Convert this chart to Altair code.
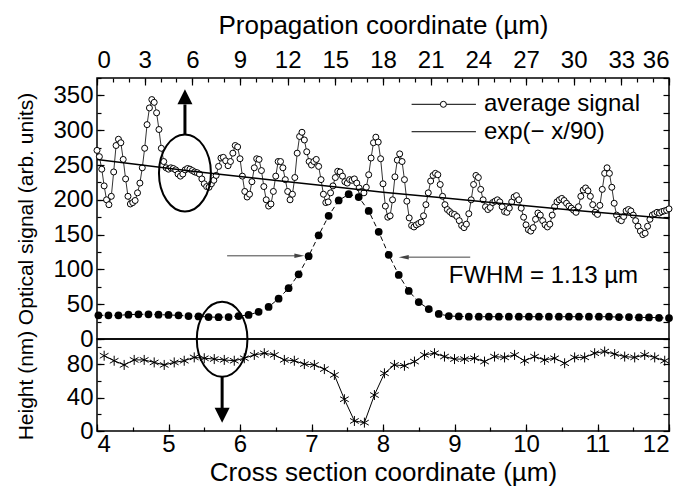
import altair as alt
import pandas as pd

# ---------------- data ----------------
# average optical signal versus propagation coordinate (µm), 0.15 µm sampling
avg_signal = [
    271, 262, 244, 220, 200, 193, 205, 240, 278, 287, 282, 258, 230, 205, 194, 196,
    199, 210, 224, 246, 274, 308, 332, 344, 340, 325, 301, 274, 255, 246, 244, 246,
    245, 243, 237, 234, 237, 243, 245, 244, 242, 240, 239, 237, 230, 223, 219, 218,
    223, 228, 235, 248, 260, 261, 256, 249, 255, 267, 278, 276, 259, 234, 212, 204,
    208, 226, 246, 259, 258, 242, 219, 200, 191, 194, 212, 234, 255, 255, 246, 229,
    212, 200, 208, 232, 267, 291, 297, 286, 269, 255, 250, 255, 258, 248, 229, 208,
    196, 197, 210, 220, 232, 241, 240, 234, 226, 224, 229, 228, 230, 224, 217, 212,
    210, 218, 236, 260, 282, 290, 283, 259, 223, 191, 175, 177, 200, 233, 257, 266,
    255, 229, 198, 174, 163, 161, 164, 166, 168, 177, 193, 210, 227, 235, 238, 236,
    222, 205, 193, 186, 183, 180, 179, 176, 170, 163, 160, 165, 180, 200, 222, 235,
    232, 215, 200, 190, 186, 189, 196, 198, 200, 197, 190, 183, 182, 188, 197, 204,
    206, 200, 188, 175, 164, 157, 155, 160, 172, 181, 178, 170, 164, 161, 165, 178,
    190, 197, 200, 202, 199, 195, 191, 188, 185, 182, 190, 205, 214, 217, 213, 205,
    193, 182, 179, 192, 215, 238, 246, 238, 218, 195, 178, 172, 170, 176, 184, 186,
    184, 178, 170, 162, 155, 150, 152, 162, 172, 178, 180, 182, 181, 183, 184, 185,
    187,
]
PROP_STEP = 0.15
prop_x = [round(i * PROP_STEP, 2) for i in range(len(avg_signal))]

# exp(-x/90) fit, read at a few propagation positions
fit_x = [0, 6, 12, 18, 24, 30, 36]
fit_y = [258, 241, 226, 211, 198, 185, 173]

# optical signal across the waveguide (cross section coordinate, µm)
CS_START, CS_STEP = 4.02, 0.14
cs_signal = [
    34, 34, 34, 35, 35.5, 35.5, 35, 34.5, 34, 33, 32.5, 31.6, 31.3, 31.6, 33, 34.5,
    39, 46, 58, 73, 93, 119, 149, 177, 199, 208, 204, 184, 154, 121, 92, 69, 53, 43,
    36, 33, 32.5, 32, 32, 32, 32, 32, 32, 32, 32, 32, 32, 32, 32, 32, 32, 32, 31.5,
    31.5, 31, 31, 30.5, 30,
]
cs_x = [round(CS_START + i * CS_STEP, 2) for i in range(len(cs_signal))]

# surface height (nm) across the waveguide
H_START, H_STEP = 4.10, 0.14
height_nm = [
    90, 84, 79, 85, 85, 82, 79, 82, 84, 88, 87, 86, 85, 84, 87, 91, 93, 91, 85, 84,
    80, 79, 74, 67, 38, 12, 10, 43, 69, 79, 78, 83, 91, 93, 89, 86, 86, 87, 83, 89,
    88, 91, 84, 89, 85, 87, 81, 88, 88, 93, 95, 92, 89, 88, 91, 88, 84,
]
h_x = [round(H_START + i * H_STEP, 2) for i in range(len(height_nm))]

# tick values
prop_ticks = list(range(0, 37, 3))
prop_minor = list(range(0, 37))
sig_ticks = list(range(0, 351, 50))
sig_minor = list(range(0, 376, 25))
cs_ticks = list(range(4, 13))
cs_minor = [4 + 0.5 * i for i in range(17)]
h_ticks = [0, 40, 80]
h_minor = [0, 20, 40, 60, 80, 100]

# annotation anchors (data units)
ell_top = {"c": [5.23], "s": [238.6]}
arrow_up_shaft = {"c": [5.23], "s": [293], "s2": [337]}
arrow_up_head = {"c": [5.23], "s": [348]}
ell_bot = {"c": [5.75], "h": [109.7]}
arrow_dn_shaft = {"c": [5.75], "h": [64.6], "h2": [27.5]}
arrow_dn_head = {"c": [5.75], "h": [18.9]}
fwhm_shafts = {"c": [5.82, 9.22], "c2": [6.83, 8.29], "s": [119.5, 117.6]}
fwhm_right_head = {"c": [6.83], "s": [119.5]}
fwhm_left_head = {"c": [8.29], "s": [117.6]}
fwhm_label = {"c": [8.92], "s": [90.5], "t": ["FWHM = 1.13 µm"]}
legend_lines = {"p": [19.8, 19.8], "p2": [23.85, 23.85], "s": [337.2, 297.8]}
legend_marker = {"p": [21.8], "s": [337.2]}
legend_text = {"p": [24.35, 24.35], "s": [337.2, 297.8], "t": ["average signal", "exp(− x/90)"]}

# ---------------- styling ----------------
FONT = "Liberation Sans"
W, H1, H2 = 572, 261, 92
ELLIPSE = ("M0.675,0C0.675,0.552,0.373,1,0,1C-0.373,1,-0.675,0.552,-0.675,0"
           "C-0.675,-0.552,-0.373,-1,0,-1C0.373,-1,0.675,-0.552,0.675,0Z")
TRI_UP = "M0,-1L1,1L-1,1Z"
TRI_DOWN = "M0,1L1,-1L-1,-1Z"
ARR_RIGHT = "M1,0L-1,-0.45L-1,0.45Z"
ARR_LEFT = "M-1,0L1,-0.45L1,0.45Z"
ASTERISK = "M0,-1L0,1M-0.87,-0.5L0.87,0.5M-0.87,0.5L0.87,-0.5"

xprop = alt.Scale(domain=[0, 36], nice=False, zero=False)
xcs = alt.Scale(domain=[4, 12], nice=False, zero=False)
ysig = alt.Scale(domain=[0, 375], nice=False, zero=False)
yh = alt.Scale(domain=[0, 110], nice=False, zero=False)


def axis(orient, values, size, labels=False, **kw):
    return alt.Axis(orient=orient, values=values, tickSize=size, offset=-size,
                    domain=False, grid=False, labels=labels, ticks=True,
                    tickColor="black", tickWidth=1.2, **kw)


def df(d):
    return pd.DataFrame(d)


HTITLE = 26   # horizontal axis titles
VTITLE = 21   # rotated axis titles
LABEL = 24
TEXT = 24

# ---------------- top panel ----------------
avg_df = pd.DataFrame({"p": prop_x, "s": avg_signal})
fit_df = pd.DataFrame({"p": fit_x, "s": fit_y})
cs_df = pd.DataFrame({"c": cs_x, "s": cs_signal})

t_avg_line = alt.Chart(avg_df).mark_line(color="black", strokeWidth=0.8).encode(
    x=alt.X("p:Q", scale=xprop,
            axis=axis("top", prop_ticks, 7, labels=True, labelPadding=6,
                      title="Propagation coordinate (µm)", titlePadding=10,
                      titleFontSize=HTITLE)),
    y=alt.Y("s:Q", scale=ysig,
            axis=axis("left", sig_ticks, 7, labels=True, labelPadding=4,
                      title="Optical signal (arb. units)", titlePadding=16,
                      titleFontSize=VTITLE, minExtent=52)),
)
t_avg_pts = alt.Chart(avg_df).mark_point(
    shape="circle", filled=True, fill="white", stroke="black", strokeWidth=1,
    size=36, opacity=1).encode(
    x=alt.X("p:Q", scale=xprop, axis=axis("top", prop_minor, 4, title=None)),
    y=alt.Y("s:Q", scale=ysig, axis=axis("left", sig_minor, 4, title=None)),
)
t_fit = alt.Chart(fit_df).mark_line(color="black", strokeWidth=1.5, interpolate="monotone").encode(
    x=alt.X("p:Q", scale=xprop, axis=None),
    y=alt.Y("s:Q", scale=ysig, axis=axis("right", sig_minor, 6, title=None)),
)
t_cs_line = alt.Chart(cs_df).mark_line(color="black", strokeWidth=1, strokeDash=[5, 3]).encode(
    x=alt.X("c:Q", scale=xcs, axis=None),
    y=alt.Y("s:Q", scale=ysig, axis=None),
)
t_cs_pts = alt.Chart(cs_df).mark_circle(color="black", size=60, opacity=1).encode(
    x=alt.X("c:Q", scale=xcs, axis=None),
    y=alt.Y("s:Q", scale=ysig, axis=None),
)
t_ell = alt.Chart(df(ell_top)).mark_point(
    shape=ELLIPSE, size=77 * 77, filled=False, stroke="black", strokeWidth=2, opacity=1).encode(
    x=alt.X("c:Q", scale=xcs, axis=None), y=alt.Y("s:Q", scale=ysig, axis=None))
t_shaft = alt.Chart(df(arrow_up_shaft)).mark_rule(color="black", strokeWidth=3).encode(
    x=alt.X("c:Q", scale=xcs, axis=None), y=alt.Y("s:Q", scale=ysig, axis=None), y2="s2:Q")
t_head = alt.Chart(df(arrow_up_head)).mark_point(
    shape=TRI_UP, size=225, filled=True, color="black", opacity=1).encode(
    x=alt.X("c:Q", scale=xcs, axis=None), y=alt.Y("s:Q", scale=ysig, axis=None))
t_fw_shafts = alt.Chart(df(fwhm_shafts)).mark_rule(color="#444", strokeWidth=1).encode(
    x=alt.X("c:Q", scale=xcs, axis=None), x2="c2:Q", y=alt.Y("s:Q", scale=ysig, axis=None))
t_fw_rh = alt.Chart(df(fwhm_right_head)).mark_point(
    shape=ARR_RIGHT, size=100, filled=True, color="#444", opacity=1).encode(
    x=alt.X("c:Q", scale=xcs, axis=None), y=alt.Y("s:Q", scale=ysig, axis=None))
t_fw_lh = alt.Chart(df(fwhm_left_head)).mark_point(
    shape=ARR_LEFT, size=100, filled=True, color="#444", opacity=1).encode(
    x=alt.X("c:Q", scale=xcs, axis=None), y=alt.Y("s:Q", scale=ysig, axis=None))
t_fw_text = alt.Chart(df(fwhm_label)).mark_text(
    align="left", baseline="middle", font=FONT, fontSize=TEXT, color="black").encode(
    x=alt.X("c:Q", scale=xcs, axis=None), y=alt.Y("s:Q", scale=ysig, axis=None), text="t:N")
t_leg_lines = alt.Chart(df(legend_lines)).mark_rule(color="black", strokeWidth=1).encode(
    x=alt.X("p:Q", scale=xprop, axis=None), x2="p2:Q", y=alt.Y("s:Q", scale=ysig, axis=None))
t_leg_marker = alt.Chart(df(legend_marker)).mark_point(
    shape="circle", filled=True, fill="white", stroke="black", strokeWidth=1, size=36, opacity=1).encode(
    x=alt.X("p:Q", scale=xprop, axis=None), y=alt.Y("s:Q", scale=ysig, axis=None))
t_leg_text = alt.Chart(df(legend_text)).mark_text(
    align="left", baseline="middle", font=FONT, fontSize=TEXT, color="black").encode(
    x=alt.X("p:Q", scale=xprop, axis=None), y=alt.Y("s:Q", scale=ysig, axis=None), text="t:N")

top = alt.layer(
    t_avg_line, t_avg_pts, t_fit, t_cs_line, t_cs_pts, t_ell, t_shaft, t_head,
    t_fw_shafts, t_fw_rh, t_fw_lh, t_fw_text, t_leg_lines, t_leg_marker, t_leg_text,
).resolve_scale(x="independent").resolve_axis(x="independent", y="independent").properties(
    width=W, height=H1)

# ---------------- bottom panel ----------------
h_df = pd.DataFrame({"c": h_x, "h": height_nm})

b_line = alt.Chart(h_df).mark_line(color="black", strokeWidth=1).encode(
    x=alt.X("c:Q", scale=xcs,
            axis=axis("bottom", cs_ticks, 7, labels=True, labelPadding=1,
                      title="Cross section coordinate (µm)", titlePadding=3,
                      titleFontSize=HTITLE)),
    y=alt.Y("h:Q", scale=yh,
            axis=axis("left", h_ticks, 7, labels=True, labelPadding=4,
                      title="Height (nm)", titlePadding=16,
                      titleFontSize=VTITLE, minExtent=52)),
)
b_pts = alt.Chart(h_df).mark_point(
    shape=ASTERISK, size=100, filled=False, stroke="black", strokeWidth=1, opacity=1).encode(
    x=alt.X("c:Q", scale=xcs, axis=axis("bottom", cs_minor, 4, title=None)),
    y=alt.Y("h:Q", scale=yh, axis=axis("left", h_minor, 4, title=None)),
)
b_ell = alt.Chart(df(ell_bot)).mark_point(
    shape=ELLIPSE, size=75 * 75, filled=False, stroke="black", strokeWidth=2, opacity=1).encode(
    x=alt.X("c:Q", scale=xcs, axis=None),
    y=alt.Y("h:Q", scale=yh, axis=axis("right", h_minor, 6, title=None)))
b_shaft = alt.Chart(df(arrow_dn_shaft)).mark_rule(color="black", strokeWidth=3).encode(
    x=alt.X("c:Q", scale=xcs, axis=None), y=alt.Y("h:Q", scale=yh, axis=None), y2="h2:Q")
b_head = alt.Chart(df(arrow_dn_head)).mark_point(
    shape=TRI_DOWN, size=225, filled=True, color="black", opacity=1).encode(
    x=alt.X("c:Q", scale=xcs, axis=None), y=alt.Y("h:Q", scale=yh, axis=None))

bottom = alt.layer(b_line, b_pts, b_ell, b_shaft, b_head).resolve_axis(
    x="independent", y="independent").properties(width=W, height=H2)

chart = alt.vconcat(top, bottom, spacing=0, bounds="flush").configure_view(
    stroke="black", strokeWidth=1.5
).configure_axis(
    labelFont=FONT, titleFont=FONT, labelFontSize=LABEL, titleFontSize=HTITLE,
    labelColor="black", titleColor="black", titleFontWeight="normal",
).properties(padding={"left": 14, "top": 11, "right": 0, "bottom": 0}, background="white")

chart.save("out.html", embed_options={"renderer": "svg", "actions": False})
